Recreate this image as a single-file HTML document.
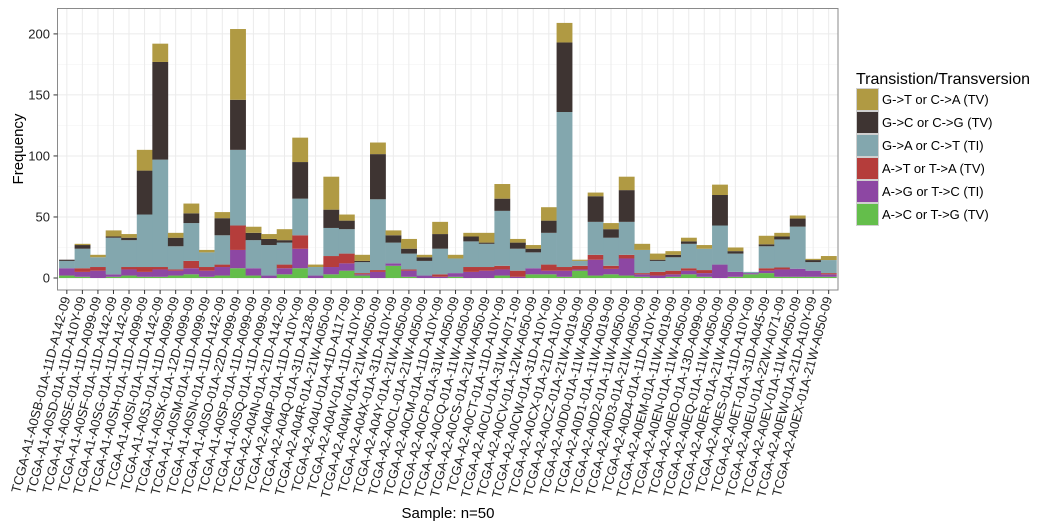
<!DOCTYPE html>
<html><head><meta charset="utf-8"><style>
html,body{margin:0;padding:0;background:#fff;}
svg{display:block;font-family:"Liberation Sans",Arial,sans-serif;}
</style></head><body>
<svg id="chart" width="1056" height="528" viewBox="0 0 1056 528" xmlns="http://www.w3.org/2000/svg">
<g id="grid"></g>
<g id="bars"></g>
<rect x="57.5" y="8.5" width="780.5" height="281.5" fill="none" stroke="#8a8a8a" stroke-width="1"/>
<g id="yaxis"></g>
<g id="xaxis"></g>
<text transform="translate(23,149) rotate(-90)" text-anchor="middle" font-size="15" fill="#000">Frequency</text>
<text x="448" y="518" text-anchor="middle" font-size="15" fill="#000">Sample: n=50</text>
<g id="legend">
<text x="856" y="84" font-size="16" fill="#000">Transistion/Transversion</text>
</g>
</svg>
<script>
const samples = ["TCGA-A1-A0SB-01A-11D-A142-09","TCGA-A1-A0SD-01A-11D-A10Y-09","TCGA-A1-A0SE-01A-11D-A099-09","TCGA-A1-A0SF-01A-11D-A142-09","TCGA-A1-A0SG-01A-11D-A142-09","TCGA-A1-A0SH-01A-11D-A099-09","TCGA-A1-A0SI-01A-11D-A142-09","TCGA-A1-A0SJ-01A-11D-A099-09","TCGA-A1-A0SK-01A-12D-A099-09","TCGA-A1-A0SM-01A-11D-A099-09","TCGA-A1-A0SN-01A-11D-A142-09","TCGA-A1-A0SO-01A-22D-A099-09","TCGA-A1-A0SP-01A-11D-A099-09","TCGA-A1-A0SQ-01A-11D-A099-09","TCGA-A2-A04N-01A-21D-A142-09","TCGA-A2-A04P-01A-11D-A10Y-09","TCGA-A2-A04Q-01A-31D-A128-09","TCGA-A2-A04R-01A-21W-A050-09","TCGA-A2-A04U-01A-41D-A117-09","TCGA-A2-A04V-01A-11D-A10Y-09","TCGA-A2-A04W-01A-21W-A050-09","TCGA-A2-A04X-01A-31D-A10Y-09","TCGA-A2-A04Y-01A-21W-A050-09","TCGA-A2-A0CL-01A-21W-A050-09","TCGA-A2-A0CM-01A-11D-A10Y-09","TCGA-A2-A0CP-01A-31W-A050-09","TCGA-A2-A0CQ-01A-11W-A050-09","TCGA-A2-A0CS-01A-21W-A050-09","TCGA-A2-A0CT-01A-11D-A10Y-09","TCGA-A2-A0CU-01A-31W-A071-09","TCGA-A2-A0CV-01A-12W-A050-09","TCGA-A2-A0CW-01A-31D-A10Y-09","TCGA-A2-A0CX-01A-21D-A10Y-09","TCGA-A2-A0CZ-01A-21W-A019-09","TCGA-A2-A0D0-01A-11W-A050-09","TCGA-A2-A0D1-01A-11W-A019-09","TCGA-A2-A0D2-01A-11W-A050-09","TCGA-A2-A0D3-01A-21W-A050-09","TCGA-A2-A0D4-01A-11D-A10Y-09","TCGA-A2-A0EM-01A-11W-A019-09","TCGA-A2-A0EN-01A-11W-A050-09","TCGA-A2-A0EO-01A-13D-A099-09","TCGA-A2-A0EQ-01A-11W-A050-09","TCGA-A2-A0ER-01A-21W-A050-09","TCGA-A2-A0ES-01A-11D-A10Y-09","TCGA-A2-A0ET-01A-31D-A045-09","TCGA-A2-A0EU-01A-22W-A071-09","TCGA-A2-A0EV-01A-11W-A050-09","TCGA-A2-A0EW-01A-21D-A10Y-09","TCGA-A2-A0EX-01A-21W-A050-09"];
// stack order bottom -> top
const acTG = [2,1,0,1,2,1,1,2,3,1,2,8,2,0,3,8,0,3,6,2,0,10,1,0,0,1,0,0,2,0,3,3,1,6,2,3,2,1,0,1,3,1,0,1,3,4,1,1,1,1];
const agTC = [6,4,6,2,5,4,6,4,5,5,7,15,6,2,5,16,2,6,6,1,5,2,5,2,1,3,5,6,5,1,5,3,5,1,13,4.5,14,2,2,2,3,3,11,4,1,2,6,6.6,5,2];
const atTA = [0,3,3,0,2,4,2,1,6,3,2,20,0,0,3,11,0,9,8,1,1.5,0,1,0,2,0,4,3,3,5,0,5,3,3,4,2.5,3,1,3,3,2,2.5,0,0,0,2,1.6,0,0,1];
const gaCT = [6,16,8,30,22,43,88,19,31,12,24,62,23,25,18,30,7,23,20,9,58,17,13,12,21,12,21,19,45,18,13,26,127,4,27,23,27,19,9,11,20,17.5,32,15,1,18,23,34.5,7,10.7];
const gcCG = [1,3,0,1,2,36,80,7,8,0,14,41,6,5,2,30,0,15,7,1,37,6,4,3,12,0,4,1,10,5,3,10,57,0,21,7,26,0,1,2,2,0,25,2,0,1.6,2.4,6.6,1.7,0];
const gtCA = [0,1,2,5,3,17,15,4,8,2,5,58,5,4,9,20,2,27,5,5,9.5,4,8,2,10,3,3,8,12,3,3,11,16,1,3,5,11,5,5,3,3,3,8.5,3,0,7,3,2.5,1,3.3];
const seriesNames = ["A->C or T->G (TV)","A->G or T->C (TI)","A->T or T->A (TV)","G->A or C->T (TI)","G->C or C->G (TV)","G->T or C->A (TV)"];
const seriesSlugs = ["ac-tg","ag-tc","at-ta","ga-ct","gc-cg","gt-ca"];
const seriesColors = ["#64be4b","#8d47a3","#b53d3b","#83a7ae","#3e3432","#b09a43"];
const yTicks = [0,50,100,150,200];
const series = [acTG,agTC,atTA,gaCT,gcCG,gtCA];

const NS="http://www.w3.org/2000/svg";
const X0=57.5, X1=838, Y0=278, PX=1.2205, TOP=8.5, BOT=290;
const n=samples.length;
const step=(X1-X0)/(n+0.2);
function xC(i){return X0+step*(i+0.6);}
function yS(v){return Y0-v*PX;}
function mk(tag,attrs,parent){const e=document.createElementNS(NS,tag);for(const k in attrs)e.setAttribute(k,attrs[k]);parent.appendChild(e);return e;}

const grid=document.getElementById('grid');
for(let v=25;v<=225;v+=50){const y=yS(v);if(y<TOP)continue;
 const l=mk('line',{x1:X0,x2:X1,y1:y,y2:y,stroke:'#f3f3f3','stroke-width':0.6},grid);
 
 }
yTicks.forEach(v=>{const y=yS(v);
 const l=mk('line',{x1:X0,x2:X1,y1:y,y2:y,stroke:'#ebebeb','stroke-width':1},grid);
 
 });
for(let i=0;i<n;i++){const x=xC(i);
 const l=mk('line',{x1:x,x2:x,y1:TOP,y2:BOT,stroke:'#ebebeb','stroke-width':1},grid);
 
 }

const bars=document.getElementById('bars');
for(let i=0;i<n;i++){let cum=0;
 for(let s=0;s<series.length;s++){const v=series[s][i];if(!v){continue;}
  const yTop=yS(cum+v), yBot=yS(cum);
  const r=mk('rect',{x:xC(i)-step/2,y:yTop,width:step+0.3,height:yBot-yTop,fill:seriesColors[s]},bars);
  
  
  cum+=v;}}

const ya=document.getElementById('yaxis');
yTicks.forEach(v=>{const y=yS(v);
 const t=mk('line',{x1:53.5,x2:57.5,y1:y,y2:y,stroke:'#333','stroke-width':1},ya);
 
 
 const tx=mk('text',{x:50,y:y+4.5,'text-anchor':'end','font-size':13,fill:'#222'},ya);
 tx.textContent=v;
 
 });

const xa=document.getElementById('xaxis');
samples.forEach((s,i)=>{const x=xC(i);
 const t=mk('line',{x1:x,x2:x,y1:290,y2:294,stroke:'#333','stroke-width':1},xa);
 
 
 const tx=mk('text',{transform:'translate('+(x+3.5)+',298) rotate(-75.5)','text-anchor':'end','font-size':13,fill:'#222'},xa);
 tx.textContent=s;
 
 });

const lg=document.getElementById('legend');
for(let k=0;k<6;k++){const s=5-k;const y=88+k*23;
 const r=mk('rect',{x:856.5,y:y+0.5,width:22,height:22,fill:seriesColors[s],stroke:'#cfcfcf','stroke-width':1},lg);
 
 
 const tx=mk('text',{x:882,y:y+16,'font-size':13,fill:'#000'},lg);
 tx.textContent=seriesNames[s];
 
 }
</script>
</body></html>
